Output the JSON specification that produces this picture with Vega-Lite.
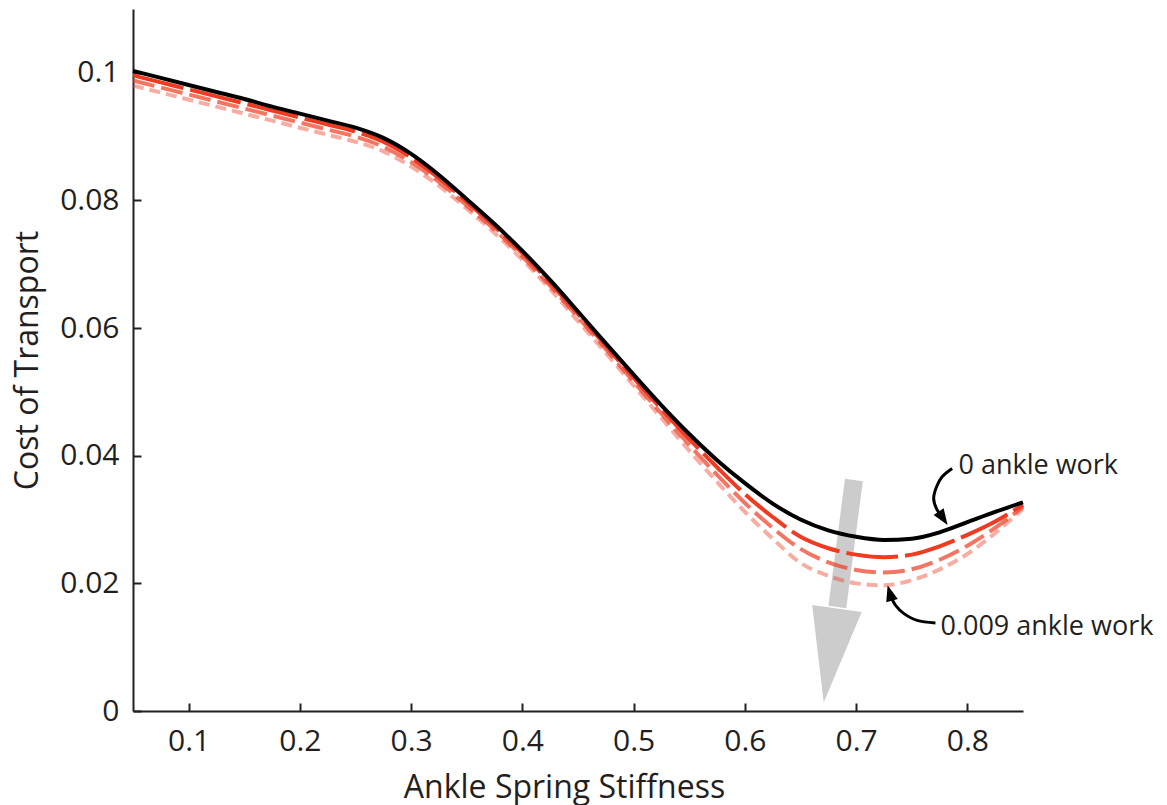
{
  "$schema": "https://vega.github.io/schema/vega-lite/v6.json",
  "width": 890,
  "height": 702,
  "autosize": "none",
  "padding": {"left": 133, "top": 9, "right": 144, "bottom": 94},
  "background": "white",
  "config": {
    "view": {"stroke": null},
    "font": "Open Sans",
    "axis": {
      "grid": false,
      "domainColor": "#231f20",
      "domainWidth": 2,
      "tickColor": "#231f20",
      "tickWidth": 2,
      "tickSize": -8,
      "labelFont": "Open Sans",
      "labelFontSize": 30,
      "labelColor": "#231f20",
      "labelFlush": false,
      "labelOverlap": false,
      "titleFont": "Open Sans",
      "titleFontSize": 32,
      "titleFontWeight": "normal",
      "titleColor": "#231f20"
    }
  },
  "datasets": {
    "w0": [
      {"k": 0.05, "c": 0.1003}, {"k": 0.075, "c": 0.0992}, {"k": 0.1, "c": 0.0981}, {"k": 0.125, "c": 0.097},
      {"k": 0.15, "c": 0.0959}, {"k": 0.175, "c": 0.0947}, {"k": 0.2, "c": 0.0936}, {"k": 0.225, "c": 0.0925},
      {"k": 0.25, "c": 0.0914}, {"k": 0.275, "c": 0.0898}, {"k": 0.3, "c": 0.0873}, {"k": 0.325, "c": 0.084},
      {"k": 0.35, "c": 0.0802}, {"k": 0.375, "c": 0.0763}, {"k": 0.4, "c": 0.0721}, {"k": 0.425, "c": 0.0675},
      {"k": 0.45, "c": 0.0626}, {"k": 0.475, "c": 0.0576}, {"k": 0.5, "c": 0.0527}, {"k": 0.525, "c": 0.0479},
      {"k": 0.55, "c": 0.0434}, {"k": 0.575, "c": 0.0393}, {"k": 0.6, "c": 0.0357}, {"k": 0.625, "c": 0.0325},
      {"k": 0.65, "c": 0.03}, {"k": 0.675, "c": 0.0283}, {"k": 0.7, "c": 0.0273}, {"k": 0.725, "c": 0.0268},
      {"k": 0.75, "c": 0.027}, {"k": 0.775, "c": 0.028}, {"k": 0.8, "c": 0.0296}, {"k": 0.825, "c": 0.0312},
      {"k": 0.85, "c": 0.0327}
    ],
    "w3": [
      {"k": 0.05, "c": 0.0996}, {"k": 0.075, "c": 0.0985}, {"k": 0.1, "c": 0.0974}, {"k": 0.125, "c": 0.0963},
      {"k": 0.15, "c": 0.0952}, {"k": 0.175, "c": 0.0941}, {"k": 0.2, "c": 0.093}, {"k": 0.225, "c": 0.0919},
      {"k": 0.25, "c": 0.0908}, {"k": 0.275, "c": 0.0892}, {"k": 0.3, "c": 0.0867}, {"k": 0.325, "c": 0.0835},
      {"k": 0.35, "c": 0.0798}, {"k": 0.375, "c": 0.0759}, {"k": 0.4, "c": 0.0717}, {"k": 0.425, "c": 0.0671},
      {"k": 0.45, "c": 0.0622}, {"k": 0.475, "c": 0.0572}, {"k": 0.5, "c": 0.0522}, {"k": 0.525, "c": 0.0473},
      {"k": 0.55, "c": 0.0426}, {"k": 0.575, "c": 0.0382}, {"k": 0.6, "c": 0.034}, {"k": 0.625, "c": 0.0304},
      {"k": 0.65, "c": 0.0273}, {"k": 0.675, "c": 0.0255}, {"k": 0.7, "c": 0.0245}, {"k": 0.725, "c": 0.0241},
      {"k": 0.75, "c": 0.0245}, {"k": 0.775, "c": 0.0258}, {"k": 0.8, "c": 0.0276}, {"k": 0.825, "c": 0.0297},
      {"k": 0.85, "c": 0.0323}
    ],
    "w6": [
      {"k": 0.05, "c": 0.0988}, {"k": 0.075, "c": 0.0977}, {"k": 0.1, "c": 0.0966}, {"k": 0.125, "c": 0.0955},
      {"k": 0.15, "c": 0.0944}, {"k": 0.175, "c": 0.0933}, {"k": 0.2, "c": 0.0922}, {"k": 0.225, "c": 0.0911},
      {"k": 0.25, "c": 0.09}, {"k": 0.275, "c": 0.0884}, {"k": 0.3, "c": 0.086}, {"k": 0.325, "c": 0.0829},
      {"k": 0.35, "c": 0.0792}, {"k": 0.375, "c": 0.0754}, {"k": 0.4, "c": 0.0712}, {"k": 0.425, "c": 0.0666},
      {"k": 0.45, "c": 0.0617}, {"k": 0.475, "c": 0.0567}, {"k": 0.5, "c": 0.0516}, {"k": 0.525, "c": 0.0466},
      {"k": 0.55, "c": 0.0417}, {"k": 0.575, "c": 0.037}, {"k": 0.6, "c": 0.0326}, {"k": 0.625, "c": 0.0287},
      {"k": 0.65, "c": 0.0254}, {"k": 0.675, "c": 0.0233}, {"k": 0.7, "c": 0.0221}, {"k": 0.725, "c": 0.0217},
      {"k": 0.75, "c": 0.0222}, {"k": 0.775, "c": 0.0237}, {"k": 0.8, "c": 0.0259}, {"k": 0.825, "c": 0.0287},
      {"k": 0.85, "c": 0.032}
    ],
    "w9": [
      {"k": 0.05, "c": 0.098}, {"k": 0.075, "c": 0.0969}, {"k": 0.1, "c": 0.0958}, {"k": 0.125, "c": 0.0947},
      {"k": 0.15, "c": 0.0936}, {"k": 0.175, "c": 0.0925}, {"k": 0.2, "c": 0.0914}, {"k": 0.225, "c": 0.0903},
      {"k": 0.25, "c": 0.0892}, {"k": 0.275, "c": 0.0877}, {"k": 0.3, "c": 0.0853}, {"k": 0.325, "c": 0.0823},
      {"k": 0.35, "c": 0.0787}, {"k": 0.375, "c": 0.0749}, {"k": 0.4, "c": 0.0707}, {"k": 0.425, "c": 0.0661},
      {"k": 0.45, "c": 0.0611}, {"k": 0.475, "c": 0.0561}, {"k": 0.5, "c": 0.051}, {"k": 0.525, "c": 0.0459},
      {"k": 0.55, "c": 0.0408}, {"k": 0.575, "c": 0.0359}, {"k": 0.6, "c": 0.0312}, {"k": 0.625, "c": 0.027},
      {"k": 0.65, "c": 0.0232}, {"k": 0.675, "c": 0.0212}, {"k": 0.7, "c": 0.02}, {"k": 0.725, "c": 0.0197},
      {"k": 0.75, "c": 0.0205}, {"k": 0.775, "c": 0.0222}, {"k": 0.8, "c": 0.0246}, {"k": 0.825, "c": 0.0279},
      {"k": 0.85, "c": 0.0317}
    ],
    "trend": [
      {"k": 0.698, "c": 0.0362, "k2": 0.6831, "c2": 0.0163}
    ],
    "trendHead": [
      {"k": 0.6768, "c": 0.0087}
    ],
    "callouts": [
      {"arrow": "top", "i": 1, "k": 0.7863, "c": 0.038},
      {"arrow": "top", "i": 2, "k": 0.7773, "c": 0.0367},
      {"arrow": "top", "i": 3, "k": 0.7722, "c": 0.0351},
      {"arrow": "top", "i": 4, "k": 0.7697, "c": 0.0333},
      {"arrow": "top", "i": 5, "k": 0.7722, "c": 0.0317},
      {"arrow": "top", "i": 6, "k": 0.7773, "c": 0.0304},
      {"arrow": "bottom", "i": 1, "k": 0.7713, "c": 0.0138},
      {"arrow": "bottom", "i": 2, "k": 0.7548, "c": 0.0142},
      {"arrow": "bottom", "i": 3, "k": 0.7427, "c": 0.0153},
      {"arrow": "bottom", "i": 4, "k": 0.7353, "c": 0.0166},
      {"arrow": "bottom", "i": 5, "k": 0.7314, "c": 0.0179},
      {"arrow": "bottom", "i": 6, "k": 0.7303, "c": 0.0185}
    ],
    "headTop": [{"k": 0.7782, "c": 0.0302}],
    "headBottom": [{"k": 0.7303, "c": 0.0185}],
    "labels": [
      {"k": 0.792, "c": 0.0371, "label": "0 ankle work"},
      {"k": 0.7758, "c": 0.0119, "label": "0.009 ankle work"}
    ]
  },
  "encoding": {
    "x": {
      "field": "k",
      "type": "quantitative",
      "scale": {"domain": [0.05, 0.85], "nice": false, "zero": false},
      "axis": {
        "title": "Ankle Spring Stiffness",
        "values": [0.1, 0.2, 0.3, 0.4, 0.5, 0.6, 0.7, 0.8],
        "format": "~g",
        "labelPadding": 23,
        "titleX": 431,
        "titleY": 86,
        "titleBaseline": "alphabetic",
        "titleAlign": "center"
      }
    },
    "y": {
      "field": "c",
      "type": "quantitative",
      "scale": {"domain": [0, 0.11], "nice": false, "zero": false},
      "axis": {
        "title": "Cost of Transport",
        "values": [0, 0.02, 0.04, 0.06, 0.08, 0.1],
        "format": "~g",
        "labelPadding": 22,
        "titleX": -96,
        "titleY": 351,
        "titleBaseline": "alphabetic",
        "titleAlign": "center"
      }
    }
  },
  "layer": [
    {
      "data": {"name": "trend"},
      "mark": {"type": "rule", "color": "#cccccc", "strokeWidth": 18, "strokeCap": "butt"},
      "encoding": {"x2": {"field": "k2"}, "y2": {"field": "c2"}}
    },
    {
      "data": {"name": "trendHead"},
      "mark": {
        "type": "point",
        "shape": "M -0.526 -1 L 0.526 -1 L 0 1 Z",
        "size": 9025,
        "angle": 8,
        "filled": true,
        "color": "#cccccc",
        "opacity": 1,
        "strokeWidth": 0
      }
    },
    {
      "data": {"name": "w9"},
      "mark": {"type": "line", "color": "#ee3b22", "opacity": 0.42, "strokeWidth": 4, "strokeDash": [11, 6], "interpolate": "monotone", "strokeCap": "butt"}
    },
    {
      "data": {"name": "w6"},
      "mark": {"type": "line", "color": "#ee3b22", "opacity": 0.7, "strokeWidth": 4, "strokeDash": [22, 7], "interpolate": "monotone", "strokeCap": "butt"}
    },
    {
      "data": {"name": "w3"},
      "mark": {"type": "line", "color": "#ee3b22", "opacity": 1, "strokeWidth": 4, "strokeDash": [52, 7], "interpolate": "monotone", "strokeCap": "butt"}
    },
    {
      "data": {"name": "w0"},
      "mark": {"type": "line", "color": "#000000", "strokeWidth": 4, "interpolate": "monotone"}
    },
    {
      "data": {"name": "callouts"},
      "mark": {"type": "line", "color": "#000000", "strokeWidth": 3, "interpolate": "cardinal"},
      "encoding": {"detail": {"field": "arrow"}, "order": {"field": "i", "type": "quantitative"}}
    },
    {
      "data": {"name": "headTop"},
      "mark": {"type": "point", "shape": "M -0.75 -1 L 0.75 -1 L 0 1 Z", "size": 256, "angle": 326, "filled": true, "color": "#000000", "opacity": 1, "strokeWidth": 0}
    },
    {
      "data": {"name": "headBottom"},
      "mark": {"type": "point", "shape": "M -0.75 -1 L 0.75 -1 L 0 1 Z", "size": 256, "angle": 164, "filled": true, "color": "#000000", "opacity": 1, "strokeWidth": 0}
    },
    {
      "data": {"name": "labels"},
      "mark": {"type": "text", "align": "left", "baseline": "alphabetic", "fontSize": 27, "font": "Open Sans", "color": "#231f20"},
      "encoding": {"text": {"field": "label"}}
    }
  ]
}
